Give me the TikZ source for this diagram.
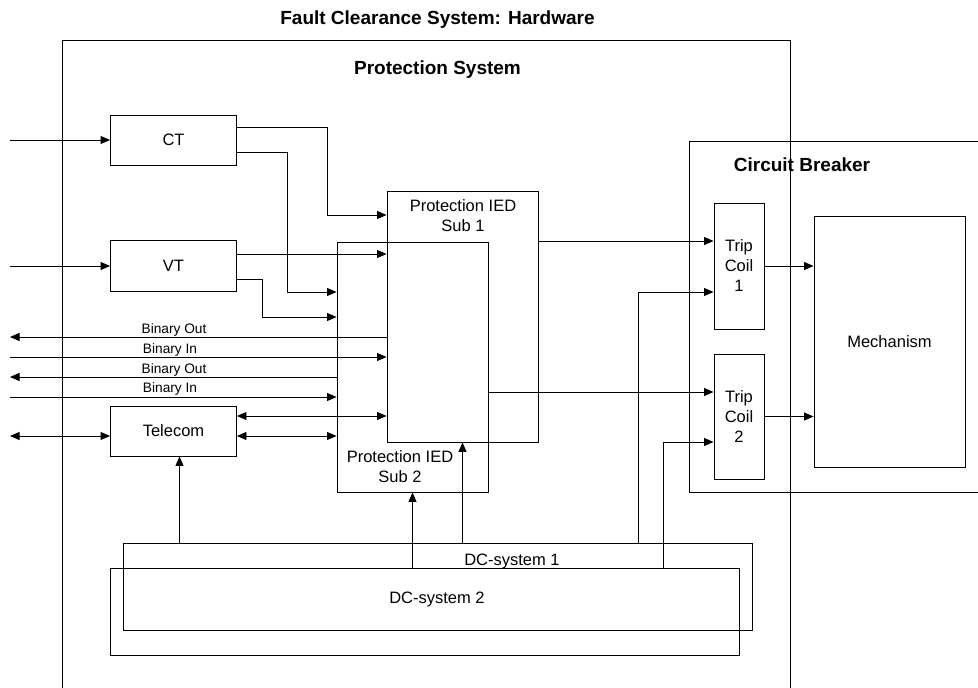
\documentclass[tikz,border=0pt]{standalone}
\usepackage{fontspec}
\setmainfont{Liberation Sans}
\usetikzlibrary{arrows.meta}

\begin{document}
\begin{tikzpicture}[
  x=1pt, y=-1pt,
  >={Triangle[length=9.5pt,width=8pt]},
  line width=0.9pt,
  font=\fontsize{16.5}{20}\selectfont,
  box/.style={rectangle, draw, inner sep=0pt, align=center},
  txt/.style={inner sep=0pt, align=center},
  head/.style={inner sep=0pt, font=\fontsize{19}{22}\selectfont\bfseries},
  sig/.style={inner sep=0pt, font=\fontsize{13.7}{15}\selectfont},
  arr/.style={->},
  both/.style={<->}
]
  \useasboundingbox (0,0) rectangle (978,688);

  % frames
  \draw (62,40) rectangle (790,700);
  \draw (689,141) rectangle (990,492);
  \node[head] (title) at (437.5,20) {Fault Clearance System: Hardware};
  \node[head] (prot) at (437.5,70) {Protection System};
  \node[head] (cbt) at (802,165) {Circuit Breaker};

  % blocks
  \node[box, minimum width=126pt, minimum height=50pt] (ct) at (173.5,140) {CT};
  \node[box, minimum width=126pt, minimum height=51pt] (vt) at (173.5,266) {VT};
  \node[box, minimum width=126pt, minimum height=50pt] (tele) at (173.5,431) {Telecom};
  \node[box, minimum width=151pt, minimum height=251pt] (sub1) at (462.5,316.5) {};
  \node[box, minimum width=151pt, minimum height=250pt] (sub2) at (412.5,367) {};
  \node[txt] (sub1t) at (463,216) {Protection IED\\Sub 1};
  \node[txt] (sub2t) at (400,467) {Protection IED\\Sub 2};
  \node[box, minimum width=50pt, minimum height=126pt] (tc1) at (739,266) {Trip\\Coil\\1};
  \node[box, minimum width=50pt, minimum height=125pt] (tc2) at (739,416.5) {Trip\\Coil\\2};
  \node[box, minimum width=151pt, minimum height=251pt] (mech) at (889.5,341.5) {Mechanism};
  \node[box, minimum width=629pt, minimum height=87pt] (dc1) at (437.5,586.5) {};
  \node[box, minimum width=629pt, minimum height=87pt] (dc2) at (424.5,611.5) {};
  \node[txt] (dc1t) at (512,561) {DC-system 1};
  \node[txt] (dc2t) at (437,599) {DC-system 2};

  % free ends
  \coordinate (inct) at (10,140);
  \coordinate (invt) at (10,266);
  \coordinate (bo1) at (10,337);
  \coordinate (bi1) at (10,357);
  \coordinate (bo2) at (10,377);
  \coordinate (bi2) at (10,397);
  \coordinate (tel) at (10,436);

  \draw[arr] (inct) -- (ct.west);
  \draw[arr] (invt) -- (vt.west);
  \draw[arr] ([yshift=13pt]ct.east) -| (327,215) -- (sub1.west |- 0,215);
  \draw[arr] ([yshift=-12pt]ct.east) -| (287,292) -- (sub2.west |- 0,292);
  \draw[arr] ([yshift=12pt]vt.east) -- (sub1.west |- 0,254);
  \draw[arr] ([yshift=-13pt]vt.east) -| (262,317) -- (sub2.west |- 0,317);

  % binary signals
  \draw[arr] (sub1.west |- bo1) -- (bo1);
  \draw[arr] (bi1) -- (sub1.west |- bi1);
  \draw[arr] (sub2.west |- bo2) -- (bo2);
  \draw[arr] (bi2) -- (sub2.west |- bi2);
  \node[sig] at (174,330) {Binary Out};
  \node[sig] at (170,350) {Binary In};
  \node[sig] at (174,370) {Binary Out};
  \node[sig] at (170,389) {Binary In};

  % telecom
  \draw[both] (tel) -- (tele.west |- tel);
  \draw[both] ([yshift=15pt]tele.east) -- (sub1.west |- 0,416);
  \draw[both] ([yshift=-5pt]tele.east) -- (sub2.west |- 0,436);

  % trip paths
  \draw[arr] (sub1.east |- 0,241) -- (tc1.west |- 0,241);
  \draw[arr] (sub2.east |- 0,392) -- (tc2.west |- 0,392);
  \draw[arr] (tc1.east) -- (mech.west |- tc1.east);
  \draw[arr] (tc2.east) -- (mech.west |- tc2.east);

  % dc supply
  \draw[arr] ([xshift=6pt]tele.south |- dc1.north) -- ([xshift=6pt]tele.south);
  \draw[arr] (sub2.south |- dc2.north) -- (sub2.south);
  \draw[arr] (sub1.south |- dc1.north) -- (sub1.south);
  \draw[arr] (dc1.north -| 638,0) |- ([yshift=-26pt]tc1.west);
  \draw[arr] (dc2.north -| 663,0) |- ([yshift=-25.5pt]tc2.west);
\end{tikzpicture}
\end{document}
